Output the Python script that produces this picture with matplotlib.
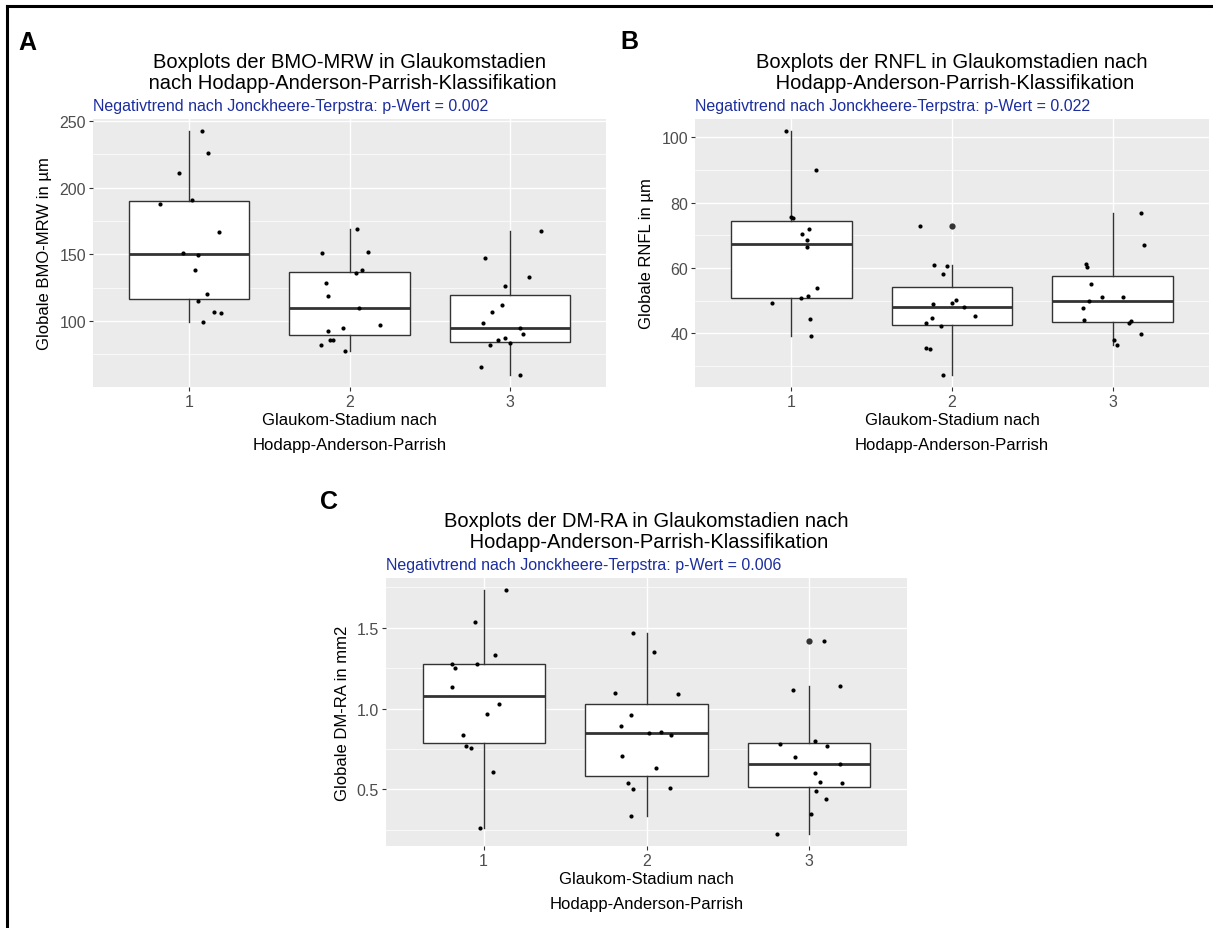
import matplotlib.pyplot as plt
from matplotlib.lines import Line2D
import numpy as np

plt.rcParams['font.family'] = ['Liberation Sans', 'DejaVu Sans']

W, H = 1213, 929

stage_labels = ["1", "2", "3"]
x_title = "Glaukom-Stadium nach\nHodapp-Anderson-Parrish"

# BMO-MRW (um) per stage, and the jitter offsets
bmo_s1 = [242.3, 225.6, 211.1, 190.4, 187.9, 166.4, 151.0, 149.7, 138.5, 120.6, 114.8, 106.8, 105.8, 99.5]
bmo_s2 = [168.9, 152.0, 151.2, 138.3, 135.8, 128.8, 118.6, 110.1, 97.4, 94.9, 92.6, 86.1, 85.6, 81.7, 77.9]
bmo_s3 = [167.2, 147.5, 133.0, 126.3, 112.1, 106.6, 98.4, 94.6, 90.1, 87.6, 85.6, 83.2, 81.7, 65.7, 59.7]
bmo_jit1 = [0.083, 0.115, -0.065, 0.019, -0.185, 0.183, -0.038, 0.056, 0.038, 0.113, 0.056, 0.156, 0.196, 0.088]
bmo_jit2 = [0.049, 0.115, -0.169, 0.077, 0.040, -0.148, -0.135, 0.058, 0.190, -0.038, -0.131, -0.106, -0.119, -0.177, -0.027]
bmo_jit3 = [0.196, -0.152, 0.119, -0.029, -0.048, -0.110, -0.165, 0.063, 0.083, -0.033, -0.075, 0.004, -0.125, -0.181, 0.063]

# RNFL (um)
rnfl_s1 = [101.9, 90.1, 75.6, 75.3, 71.9, 70.3, 68.6, 66.3, 54.0, 51.4, 50.8, 49.2, 44.3, 39.2]
rnfl_s2 = [73.0, 60.8, 60.5, 58.3, 50.2, 49.2, 49.0, 48.1, 45.2, 44.8, 43.2, 42.2, 35.4, 35.1, 27.3]
rnfl_s3 = [76.9, 67.0, 61.3, 60.3, 55.0, 51.1, 51.0, 50.0, 47.9, 44.0, 43.7, 43.3, 39.9, 38.1, 36.4]
rnfl_jit1 = [-0.031, 0.152, -0.004, 0.012, 0.108, 0.069, 0.100, 0.096, 0.162, 0.104, 0.058, -0.123, 0.114, 0.123]
rnfl_jit2 = [-0.198, -0.110, -0.031, -0.054, 0.023, -0.002, -0.121, 0.073, 0.144, -0.127, -0.160, -0.069, -0.162, -0.135, -0.054]
rnfl_jit3 = [0.178, 0.195, -0.164, -0.160, -0.137, 0.066, -0.064, -0.145, -0.187, -0.176, 0.112, 0.102, 0.178, 0.010, 0.025]

# DM-RA (mm2)
dmra_s1 = [1.733, 1.533, 1.331, 1.275, 1.275, 1.252, 1.132, 1.027, 0.967, 0.839, 0.767, 0.758, 0.610, 0.258]
dmra_s2 = [1.471, 1.353, 1.095, 1.091, 0.961, 0.893, 0.857, 0.847, 0.839, 0.707, 0.630, 0.541, 0.506, 0.502, 0.335]
dmra_s3 = [1.421, 1.140, 1.118, 0.798, 0.781, 0.769, 0.700, 0.657, 0.599, 0.548, 0.537, 0.488, 0.442, 0.345, 0.225]
dmra_jit1 = [0.135, -0.051, 0.068, -0.193, -0.039, -0.176, -0.195, 0.094, 0.020, -0.127, -0.111, -0.080, 0.059, -0.025]
dmra_jit2 = [-0.082, 0.043, -0.195, 0.193, -0.096, -0.156, 0.092, 0.016, 0.150, -0.152, 0.061, -0.113, 0.145, -0.084, -0.096]
dmra_jit3 = [0.092, 0.189, -0.102, 0.035, -0.180, 0.111, -0.086, 0.189, 0.035, 0.068, 0.201, 0.041, 0.102, 0.008, -0.197]

fig = plt.figure(figsize=(W / 100, H / 100), dpi=100)


def fx(x):
    return x / W


def fy(y):
    return 1 - y / H


def draw_panel(box_px, groups, jitters, yticks, yminor, fmt, ylabel, title, subtitle, letter, letter_px):
    left, top, right, bottom = box_px
    ax = fig.add_axes([fx(left), fy(bottom), (right - left) / W, (bottom - top) / H])
    ax.set_facecolor('#EBEBEB')
    for s in ax.spines.values():
        s.set_visible(False)

    ax.boxplot(groups, positions=[1, 2, 3], widths=0.75, whis=1.5, patch_artist=True, showcaps=False,
               boxprops=dict(facecolor='white', edgecolor='#333333', linewidth=1.0),
               medianprops=dict(color='#333333', linewidth=2.0),
               whiskerprops=dict(color='#333333', linewidth=1.0),
               flierprops=dict(marker='o', markerfacecolor='#333333', markeredgecolor='none', markersize=4.5),
               zorder=2)
    for i, (vals, jit) in enumerate(zip(groups, jitters)):
        ax.scatter(np.array(jit) + i + 1, vals, s=9, color='black', linewidths=0, zorder=3)

    allv = np.concatenate(groups)
    pad = 0.05 * (allv.max() - allv.min())
    ax.set_ylim(allv.min() - pad, allv.max() + pad)
    ax.set_xlim(0.4, 3.6)
    ax.set_xticks([1, 2, 3])
    ax.set_xticklabels(stage_labels)
    ax.set_yticks(yticks)
    ax.set_yticklabels([fmt % v for v in yticks])
    ax.set_yticks(yminor, minor=True)
    ax.tick_params(which='major', length=3, width=0.8, color='#333333', labelcolor='#4D4D4D',
                   labelsize=11.5, pad=2)
    ax.tick_params(which='minor', length=0)
    ax.grid(which='major', color='white', linewidth=1.0)
    ax.grid(which='minor', axis='y', color='white', linewidth=0.5)
    ax.set_axisbelow(True)

    ax.set_ylabel(ylabel, fontsize=12, labelpad=5)
    ax.set_xlabel(x_title, fontsize=12, linespacing=1.8, labelpad=2.5)

    cx = fx((left + right) / 2)
    fig.text(cx, fy(top - 52), title[0], ha='center', va='baseline', fontsize=14.5)
    fig.text(cx, fy(top - 31), title[1], ha='center', va='baseline', fontsize=14.5)
    fig.text(fx(left), fy(top - 9), subtitle, ha='left', va='baseline', fontsize=11.5, color='#1c2d9e')
    fig.text(fx(letter_px[0]), fy(letter_px[1]), letter, ha='left', va='baseline',
             fontsize=18, fontweight='bold')
    return ax


draw_panel((93, 120, 606, 388), [bmo_s1, bmo_s2, bmo_s3], [bmo_jit1, bmo_jit2, bmo_jit3],
           [100, 150, 200, 250], [75, 125, 175, 225], "%d", "Globale BMO-MRW in µm",
           ["Boxplots der BMO-MRW in Glaukomstadien", " nach Hodapp-Anderson-Parrish-Klassifikation"],
           "Negativtrend nach Jonckheere-Terpstra: p-Wert = 0.002", "A", (18, 50))

draw_panel((695, 120, 1209, 388), [rnfl_s1, rnfl_s2, rnfl_s3], [rnfl_jit1, rnfl_jit2, rnfl_jit3],
           [40, 60, 80, 100], [30, 50, 70, 90], "%d", "Globale RNFL in µm",
           ["Boxplots der RNFL in Glaukomstadien nach", " Hodapp-Anderson-Parrish-Klassifikation"],
           "Negativtrend nach Jonckheere-Terpstra: p-Wert = 0.022", "B", (620, 49))

draw_panel((386, 579, 907, 847), [dmra_s1, dmra_s2, dmra_s3], [dmra_jit1, dmra_jit2, dmra_jit3],
           [0.5, 1.0, 1.5], [0.25, 0.75, 1.25, 1.75], "%.1f", "Globale DM-RA in mm2",
           ["Boxplots der DM-RA in Glaukomstadien nach", " Hodapp-Anderson-Parrish-Klassifikation"],
           "Negativtrend nach Jonckheere-Terpstra: p-Wert = 0.006", "C", (320, 509))

# frame lines at the top and left edge
fig.add_artist(Line2D([fx(7), 1], [fy(7), fy(7)], color='black', linewidth=2.2))
fig.add_artist(Line2D([fx(7), fx(7)], [fy(7), 0], color='black', linewidth=2.2))

fig.savefig("out.png", dpi=100)
